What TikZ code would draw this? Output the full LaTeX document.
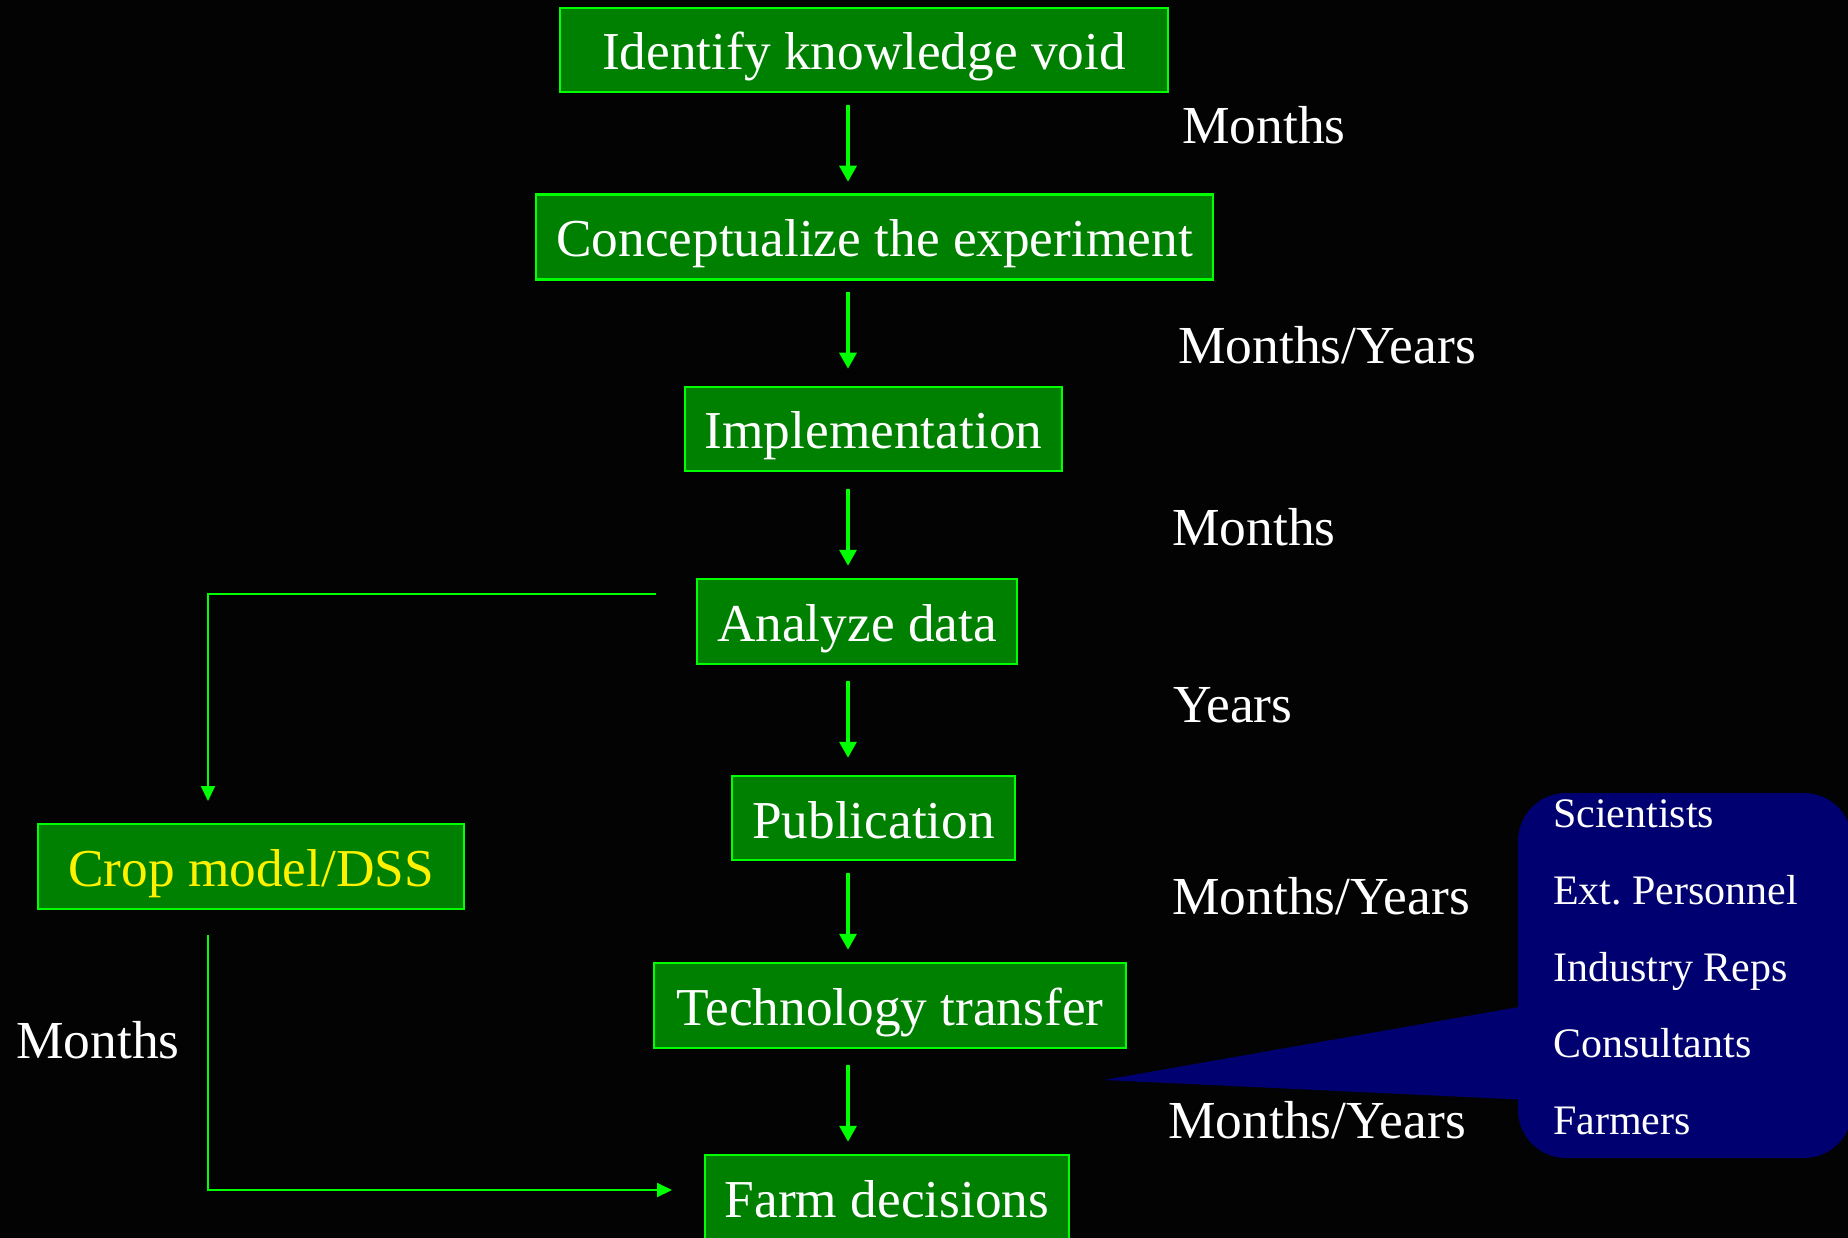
\documentclass[tikz,border=0pt]{standalone}
\usepackage{fontspec}
\setmainfont{Liberation Serif}
\usetikzlibrary{arrows.meta,calc}
\definecolor{dgreen}{RGB}{0,128,0}
\definecolor{bgreen}{RGB}{0,255,0}
\definecolor{navyc}{RGB}{0,0,112}
\definecolor{bgc}{RGB}{3,3,3}
\frenchspacing
\begin{document}
\begin{tikzpicture}[x=1pt,y=-1pt,
  box/.style={draw=bgreen, line width=2.5pt, fill=dgreen, text=white, inner sep=0pt,
    font=\fontsize{53.3}{60}\selectfont, text height=40pt, text depth=0pt, align=center},
  lab/.style={text=white, anchor=base west, inner sep=0pt, font=\fontsize{53.5}{60}\selectfont},
  clab/.style={text=white, anchor=base west, inner sep=0pt, font=\fontsize{42}{48}\selectfont},
  arr/.style={draw=bgreen, line width=3.3pt, -{Triangle[length=16pt,width=17pt]}},
  tarr/.style={draw=bgreen, line width=2pt, -{Triangle[length=15pt,width=14pt]}}]
\fill[bgc] (0,0) rectangle (1848,1238);
\useasboundingbox (0,0) rectangle (1848,1238);

% boxes
\node[box, minimum width=608pt, minimum height=84pt] (b1) at (864,50) {Identify knowledge void};
\node[box, minimum width=677pt, minimum height=85pt] (b2) at (874.5,237) {Conceptualize the experiment};
\node[box, minimum width=377pt, minimum height=84pt] (b3) at (873.5,429) {Implementation};
\node[box, minimum width=320pt, minimum height=85pt] (b4) at (857,621.5) {Analyze data};
\node[box, minimum width=283pt, minimum height=84pt] (b5) at (873.5,818) {Publication};
\node[box, minimum width=426pt, minimum height=85pt, text=yellow] (crop) at (251,866.5) {Crop model/DSS};
\node[box, minimum width=472pt, minimum height=85pt] (b6) at (890,1005.5) {Technology transfer};
\node[box, minimum width=364pt, minimum height=85pt] (b7) at (887,1197.5) {Farm decisions};

% main arrows
\coordinate (ax) at (848,0);
\draw[arr, shorten <=12pt, shorten >=11.5pt] (b1.south -| ax) -- (b2.north -| ax);
\draw[arr, shorten <=11.5pt, shorten >=17pt] (b2.south -| ax) -- (b3.north -| ax);
\draw[arr, shorten <=17pt, shorten >=12pt] (b3.south -| ax) -- (b4.north -| ax);
\draw[arr, shorten <=16pt, shorten >=17pt] (b4.south -| ax) -- (b5.north -| ax);
\draw[arr, shorten <=12pt, shorten >=12pt] (b5.south -| ax) -- (b6.north -| ax);
\draw[arr, shorten <=16pt, shorten >=12pt] (b6.south -| ax) -- (b7.north -| ax);

% side connectors
\coordinate (s1) at (656,594);
\coordinate (e1) at (208,801);
\coordinate (s2) at (208,935);
\coordinate (e2) at (672,1190);
\draw[tarr] (s1) -| (e1);
\draw[tarr] (s2) |- (e2);

% time labels
\node[lab] (m1) at (1182,144) {Months};
\node[lab] (m2) at (1178,364) {Months/Years};
\node[lab] (m3) at (1172,545.5) {Months};
\node[lab] (m4) at (1173,722.5) {Years};
\node[lab] (m5) at (1172,914.5) {Months/Years};
\node[lab] (m6) at (1168,1138.5) {Months/Years};
\node[lab] (m7) at (16,1058.5) {Months};

% callout
\fill[navyc] (1530,1005) -- (1104,1080) -- (1530,1100) -- cycle;
\fill[navyc, rounded corners=48pt] (1518,793) rectangle (1852,1158);
\node[clab] (c1) at (1553,827) {Scientists};
\node[clab] (c2) at (1553,904) {Ext. Personnel};
\node[clab] (c3) at (1553,981) {Industry Reps};
\node[clab] (c4) at (1553,1057) {Consultants};
\node[clab] (c5) at (1553,1134) {Farmers};
\end{tikzpicture}
\end{document}
